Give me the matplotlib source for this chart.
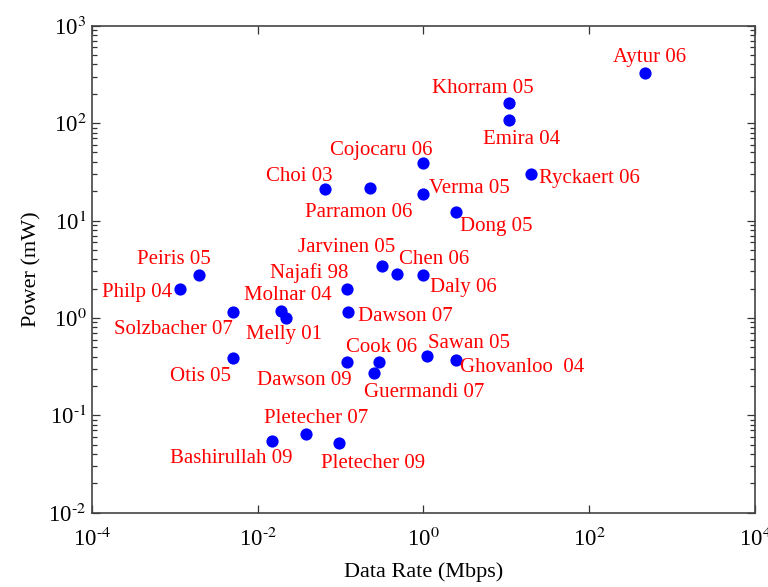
import numpy as np
import matplotlib.pyplot as plt
from matplotlib.ticker import FixedLocator, NullLocator, LogLocator, FuncFormatter

# =========================
# data
# =========================
names = ["Aytur 06", "Khorram 05", "Emira 04", "Cojocaru 06", "Verma 05",
         "Ryckaert 06", "Dong 05", "Chen 06", "Daly 06", "Jarvinen 05",
         "Choi 03", "Parramon 06", "Peiris 05", "Philp 04", "Najafi 98",
         "Molnar 04", "Solzbacher 07", "Melly 01", "Dawson 07", "Otis 05",
         "Cook 06", "Dawson 09", "Guermandi 07", "Sawan 05", "Ghovanloo  04",
         "Pletecher 07", "Bashirullah 09", "Pletecher 09"]
rate = [470, 10.8, 10.8, 1.0, 1.0,
        19.6, 2.46, 0.48, 1.0, 0.32,
        0.064, 0.225, 0.00195, 0.00115, 0.118,
        0.019, 0.005, 0.022, 0.124, 0.005,
        0.29, 0.12, 0.25, 1.09, 2.46,
        0.038, 0.015, 0.096]
power = [330, 160, 108, 39, 18.6,
         30, 12.3, 2.8, 2.75, 3.4,
         21, 21.7, 2.75, 1.97, 1.97,
         1.18, 1.16, 0.99, 1.14, 0.39,
         0.35, 0.35, 0.27, 0.41, 0.37,
         0.064, 0.055, 0.052]

# label placement: offset from the dot in pixels (x right, y down), anchor
label_dx = [4.5, -26, 12, -42.5, 6,
            8, 4, 2, 7, 13,
            -25.5, -11, -25.5, -8, -37,
            7.5, 0, -2, 10, -2,
            3, 4, -10, 1, 4,
            10, 20, -18]
label_dy = [-17, -16, 18, -14, -7,
            3, 13, -16, 11, -20,
            -14, 23, -17, 2, -17,
            -17, 16, 15, 3, 17,
            -16, 17, 18, -14, 6,
            -17, 16, 19]
label_ha = ["center", "center", "center", "center", "left",
            "left", "left", "left", "left", "right",
            "center", "center", "center", "right", "center",
            "center", "right", "center", "left", "right",
            "center", "right", "left", "left", "left",
            "center", "right", "left"]

x_ticks = [1e-4, 1e-2, 1e0, 1e2, 1e4]

# =========================
# style
# =========================
plt.rcParams["font.family"] = ["Liberation Serif", "DejaVu Serif"]
plt.rcParams["mathtext.fontset"] = "stix"
PX = 0.72  # points per pixel at dpi=100


def pow10(v, pos):
    e = int(round(np.log10(v)))
    s = str(e).replace("-", r"\text{-}")
    return r"$\mathdefault{10}^{%s}$" % s


fig = plt.figure(figsize=(7.68, 5.87), dpi=100)
ax = fig.add_axes([0.1198, 0.1266, 0.8632, 0.8296])

ax.plot(rate, power, "o", color="#0000ff", ms=8.8, mec="none", zorder=3)

for n, x, y, dx, dy, ha in zip(names, rate, power, label_dx, label_dy, label_ha):
    ax.annotate(n, (x, y), xytext=(dx * PX, -(dy + 6) * PX),
                textcoords="offset points", ha=ha, va="baseline",
                color="#ff0000", fontsize=15)

ax.set_xscale("log")
ax.set_yscale("log")
ax.set_xlim(1e-4, 1e4)
ax.set_ylim(1e-2, 1e3)

ax.xaxis.set_major_locator(FixedLocator(x_ticks))
ax.xaxis.set_minor_locator(NullLocator())
ax.yaxis.set_major_locator(LogLocator(base=10, numticks=10))
ax.yaxis.set_minor_locator(LogLocator(base=10, subs=np.arange(2, 10), numticks=10))
ax.xaxis.set_major_formatter(FuncFormatter(pow10))
ax.yaxis.set_major_formatter(FuncFormatter(pow10))

ax.tick_params(which="both", direction="in", top=True, right=True,
               color="#333333", width=0.9)
ax.tick_params(which="major", length=5.5, labelsize=16.5)
ax.tick_params(which="minor", length=3.5)
ax.tick_params(axis="x", pad=11)
ax.tick_params(axis="y", pad=4)

for s in ax.spines.values():
    s.set_color("#444444")
    s.set_linewidth(1.2)

ax.set_xlabel("Data Rate (Mbps)", fontsize=16, labelpad=8)
ax.set_ylabel("Power (mW)", fontsize=16, labelpad=5)

fig.savefig("out.png", dpi=100)
